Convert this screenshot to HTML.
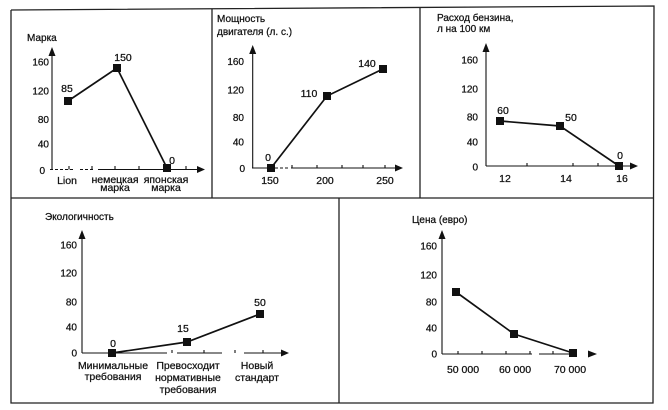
<!DOCTYPE html>
<html><head><meta charset="utf-8"><style>
html,body{margin:0;padding:0;background:#fff;}
svg{display:block;}
text{font-family:"Liberation Sans","DejaVu Sans",sans-serif;fill:#111;stroke:#111;stroke-width:0.25px;}
.t{font-size:10px;}
.tk{font-size:10px;text-anchor:end;}
.d{font-size:10.5px;text-anchor:middle;}
.xl{font-size:10.5px;text-anchor:middle;}
</style></head><body>
<svg width="668" height="410" viewBox="0 0 668 410" xmlns="http://www.w3.org/2000/svg">
<g stroke="#222" stroke-width="1.3" fill="none">
<polyline points="11,10 654,6 653,403 11,403 11,10"/>
<line x1="11" y1="198" x2="653" y2="198"/>
<line x1="212" y1="9" x2="212" y2="198"/>
<line x1="420" y1="8" x2="420" y2="198"/>
<line x1="339" y1="198" x2="339" y2="403"/>
</g>

<!-- Panel 1 -->
<text class="t" x="27" y="41">Марка</text>
<g stroke="#111" stroke-width="1.1" fill="none">
<line x1="52" y1="169.5" x2="52" y2="54"/>
<line x1="50" y1="169.5" x2="74" y2="169.5" stroke-dasharray="3,2"/>
<line x1="80" y1="169.5" x2="94" y2="169.5" stroke-dasharray="3,2"/>
<line x1="98" y1="169.5" x2="199" y2="169.5"/>
<line x1="69" y1="166" x2="69" y2="169.5"/>
<line x1="92" y1="166" x2="92" y2="169.5"/>
<line x1="115" y1="166" x2="115" y2="169.5"/>
<line x1="139" y1="166" x2="139" y2="169.5"/>
<line x1="186" y1="166" x2="186" y2="169.5"/>
</g>
<polygon points="52,47 48.5,56 55.5,56" fill="#111"/>
<polygon points="205,169.5 197,166 197,173" fill="#111"/>
<text class="tk" x="49" y="65.5">160</text>
<text class="tk" x="49" y="94.5">120</text>
<text class="tk" x="49" y="123">80</text>
<text class="tk" x="49" y="147.5">40</text>
<text class="tk" x="45" y="174">0</text>
<polyline points="68,101 117,68 167,168" stroke="#111" stroke-width="1.7" fill="none"/>
<rect x="64" y="97" width="8" height="8" fill="#111"/>
<rect x="113" y="64" width="8" height="8" fill="#111"/>
<rect x="163" y="164" width="8" height="8" fill="#111"/>
<text class="d" x="67" y="92">85</text>
<text class="d" x="123" y="61">150</text>
<text class="d" x="172" y="164">0</text>
<text class="xl" x="67" y="184">Lion</text>
<text class="xl" x="115" y="183">немецкая</text>
<text class="xl" x="115" y="191">марка</text>
<text class="xl" x="166" y="183">японская</text>
<text class="xl" x="166" y="191">марка</text>

<!-- Panel 2 -->
<text class="t" x="217" y="22">Мощность</text>
<text class="t" x="217" y="35">двигателя (л. с.)</text>
<g stroke="#111" stroke-width="1.1" fill="none">
<line x1="252.7" y1="168" x2="252.7" y2="52"/>
<line x1="252" y1="168" x2="272" y2="168"/>
<line x1="275" y1="168" x2="289" y2="168" stroke-dasharray="3,2"/>
<line x1="291" y1="168" x2="397" y2="168"/>
<line x1="292" y1="165" x2="292" y2="168"/>
<line x1="317" y1="165" x2="317" y2="168"/>
<line x1="342" y1="165" x2="342" y2="168"/>
<line x1="363" y1="165" x2="363" y2="168"/>
<line x1="385" y1="165" x2="385" y2="168"/>
</g>
<polygon points="252.7,45 249.2,54 256.2,54" fill="#111"/>
<polygon points="403,168 395,164.5 395,171.5" fill="#111"/>
<text class="tk" x="244" y="65">160</text>
<text class="tk" x="244" y="93.5">120</text>
<text class="tk" x="244" y="121">80</text>
<text class="tk" x="244" y="145.5">40</text>
<text class="tk" x="245" y="172">0</text>
<polyline points="271,168 327,96 383,69" stroke="#111" stroke-width="1.7" fill="none"/>
<rect x="267" y="164" width="8" height="8" fill="#111"/>
<rect x="323" y="92" width="8" height="8" fill="#111"/>
<rect x="379" y="65" width="8" height="8" fill="#111"/>
<text class="d" x="268" y="161">0</text>
<text class="d" x="309" y="97">110</text>
<text class="d" x="367" y="67">140</text>
<text class="xl" x="270" y="184">150</text>
<text class="xl" x="325" y="184">200</text>
<text class="xl" x="385" y="184">250</text>

<!-- Panel 3 -->
<text class="t" x="437" y="21">Расход бензина,</text>
<text class="t" x="437" y="32">л на 100 км</text>
<g stroke="#111" stroke-width="1.1" fill="none">
<line x1="486" y1="166" x2="486" y2="50"/>
<line x1="486" y1="166" x2="632" y2="166"/>
<line x1="527" y1="163" x2="527" y2="166"/>
<line x1="573" y1="163" x2="573" y2="166"/>
<line x1="598" y1="163" x2="598" y2="166"/>
</g>
<polygon points="486,43 482.5,52 489.5,52" fill="#111"/>
<polygon points="638,166 630,162.5 630,169.5" fill="#111"/>
<text class="tk" x="478" y="63.5">160</text>
<text class="tk" x="478" y="92.5">120</text>
<text class="tk" x="478" y="120.5">80</text>
<text class="tk" x="478" y="145.5">40</text>
<text class="tk" x="478" y="170.5">0</text>
<polyline points="500,121 560,126 619,166" stroke="#111" stroke-width="1.7" fill="none"/>
<rect x="496" y="117" width="8" height="8" fill="#111"/>
<rect x="556" y="122" width="8" height="8" fill="#111"/>
<rect x="615" y="162" width="8" height="8" fill="#111"/>
<text class="d" x="503" y="114">60</text>
<text class="d" x="571" y="121">50</text>
<text class="d" x="620" y="159">0</text>
<text class="xl" x="505" y="182">12</text>
<text class="xl" x="566" y="182">14</text>
<text class="xl" x="622" y="182">16</text>

<!-- Panel 4 -->
<text class="t" x="45" y="220">Экологичность</text>
<g stroke="#111" stroke-width="1.1" fill="none">
<line x1="82" y1="353" x2="82" y2="237"/>
<line x1="82" y1="353" x2="167" y2="353"/>
<line x1="177" y1="353" x2="222" y2="353"/>
<line x1="244" y1="353" x2="282" y2="353"/>
<line x1="172" y1="350" x2="172" y2="353"/>
<line x1="204" y1="350" x2="204" y2="353"/>
<line x1="235" y1="350" x2="235" y2="353"/>
<line x1="263" y1="350" x2="263" y2="353"/>
</g>
<polygon points="82,230 78.5,239 85.5,239" fill="#111"/>
<polygon points="289,353 281,349.5 281,356.5" fill="#111"/>
<text class="tk" x="77" y="248.5">160</text>
<text class="tk" x="77" y="276.5">120</text>
<text class="tk" x="77" y="305.5">80</text>
<text class="tk" x="77" y="330.5">40</text>
<text class="tk" x="77" y="356.5">0</text>
<polyline points="112,353 187,342 260,314" stroke="#111" stroke-width="1.7" fill="none"/>
<rect x="108" y="349" width="8" height="8" fill="#111"/>
<rect x="183" y="338" width="8" height="8" fill="#111"/>
<rect x="256" y="310" width="8" height="8" fill="#111"/>
<text class="d" x="113" y="347">0</text>
<text class="d" x="183" y="332">15</text>
<text class="d" x="260" y="306">50</text>
<text class="xl" x="113" y="369">Минимальные</text>
<text class="xl" x="113" y="380">требования</text>
<text class="xl" x="188" y="369">Превосходит</text>
<text class="xl" x="188" y="381">нормативные</text>
<text class="xl" x="188" y="393">требования</text>
<text class="xl" x="257" y="369">Новый</text>
<text class="xl" x="257" y="381">стандарт</text>

<!-- Panel 5 -->
<text class="t" x="412" y="223">Цена (евро)</text>
<g stroke="#111" stroke-width="1.1" fill="none">
<line x1="442" y1="354" x2="442" y2="237"/>
<line x1="442" y1="354" x2="532" y2="354"/>
<line x1="539" y1="354" x2="575" y2="354"/>
<line x1="458" y1="351" x2="458" y2="354"/>
<line x1="482" y1="351" x2="482" y2="354"/>
<line x1="506" y1="351" x2="506" y2="354"/>
<line x1="530" y1="351" x2="530" y2="354"/>
<line x1="553" y1="351" x2="553" y2="354"/>
</g>
<polygon points="442,230 438.5,239 445.5,239" fill="#111"/>
<polygon points="597,354 588,350.5 588,357.5" fill="#111"/>
<text class="tk" x="437" y="249.5">160</text>
<text class="tk" x="437" y="278.5">120</text>
<text class="tk" x="437" y="305.5">80</text>
<text class="tk" x="437" y="331.5">40</text>
<text class="tk" x="437" y="357.5">0</text>
<polyline points="456,292 514,334 573,353" stroke="#111" stroke-width="1.7" fill="none"/>
<rect x="452" y="288" width="8" height="8" fill="#111"/>
<rect x="510" y="330" width="8" height="8" fill="#111"/>
<rect x="569" y="349" width="8" height="8" fill="#111"/>
<text class="xl" x="463" y="373">50 000</text>
<text class="xl" x="515" y="373">60 000</text>
<text class="xl" x="570" y="373">70 000</text>
</svg>
</body></html>
